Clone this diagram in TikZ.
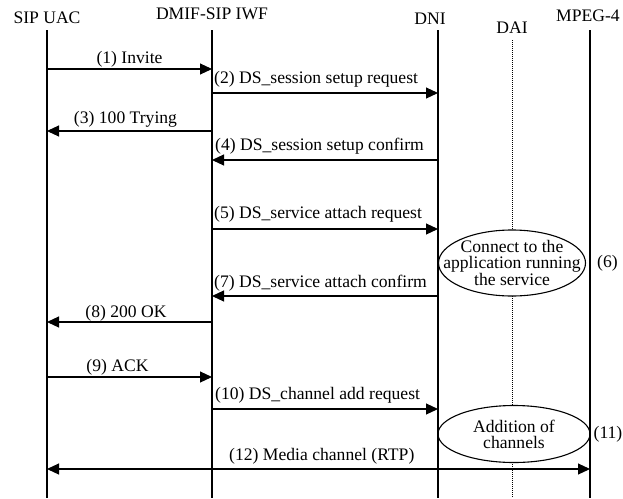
\documentclass[tikz,border=0pt]{standalone}
\usepackage{fontspec}
\setmainfont{Liberation Serif}
\usetikzlibrary{arrows.meta,shapes.geometric}
\begin{document}
\begin{tikzpicture}[x=1pt,y=-1pt,
  every node/.style={font=\fontsize{17.6}{16}\selectfont, inner sep=0pt},
  lifeline/.style={line width=1.2pt},
  dailine/.style={line width=0.8pt, dash pattern=on 1pt off 1pt},
  msg/.style={line width=1.1pt, -{Triangle[length=12pt,width=11pt]}},
  bimsg/.style={line width=1.1pt, {Triangle[length=12pt,width=11pt]}-{Triangle[length=12pt,width=11pt]}},
  action/.style={draw, ellipse, line width=1.1pt, fill=white, inner sep=0pt},
  lbl/.style={anchor=base},
  lblw/.style={anchor=base west}]
\useasboundingbox (0,0) rectangle (623,498);

% entity headings
\node[lbl] (huac) at (47,23) {SIP UAC};
\node[lbl] (hiwf) at (212,19) {DMIF-SIP IWF};
\node[lbl] (hdni) at (430,24) {DNI};
\node[lbl] (hdai) at (512,33) {DAI};
\node[lbl] (hmpg) at (588,21) {MPEG-4};

% lifeline end points
\coordinate (uac) at (47,30);   \coordinate (uacB) at (47,498);
\coordinate (iwf) at (212,30);  \coordinate (iwfB) at (212,498);
\coordinate (dni) at (438,30);  \coordinate (dniB) at (438,498);
\coordinate (dai) at (512,40);  \coordinate (daiB) at (512,498);
\coordinate (mpg) at (590,30);  \coordinate (mpgB) at (590,498);

% DAI is only a dotted interface line
\draw[dailine] (dai) -- (daiB);

% local actions at the network side
\node[action, minimum width=147pt, minimum height=66pt] (act6) at (512,263) {};
\node[align=center] (t6) at (act6.center) {Connect to the\\application running\\the service};
\node[action, minimum width=152pt, minimum height=57pt] (act11) at (514,434) {};
\node[align=center] (t11) at (act11.center) {Addition of\\channels};
\node[lbl] (n6) at (607.5,267) {(6)};
\node[lbl] (n11) at (608,438) {(11)};

% solid lifelines
\draw[lifeline] (uac) -- (uacB);
\draw[lifeline] (iwf) -- (iwfB);
\draw[lifeline] (dni) -- (dniB);
\draw[lifeline] (mpg) -- (mpgB);

% message rows
\coordinate (y1) at (0,69);
\coordinate (y2) at (0,93);
\coordinate (y3) at (0,131);
\coordinate (y4) at (0,160);
\coordinate (y5) at (0,229);
\coordinate (y7) at (0,296);
\coordinate (y8) at (0,322);
\coordinate (y9) at (0,377);
\coordinate (y10) at (0,409);
\coordinate (y12) at (0,469);

\draw[msg] (uac |- y1) -- (iwf |- y1);
\node[lbl] (l1) at (129.5,63) {(1) Invite};
\draw[msg] (iwf |- y2) -- (dni |- y2);
\node[lblw] (l2) at (214,83) {(2) DS\_session setup request};
\draw[msg] (iwf |- y3) -- (uac |- y3);
\node[lbl] (l3) at (125.5,123) {(3) 100 Trying};
\draw[msg] (dni |- y4) -- (iwf |- y4);
\node[lblw] (l4) at (215,150) {(4) DS\_session setup confirm};
\draw[msg] (iwf |- y5) -- (dni |- y5);
\node[lblw] (l5) at (214,218) {(5) DS\_service attach request};
\draw[msg] (dni |- y7) -- (iwf |- y7);
\node[lblw] (l7) at (214,287) {(7) DS\_service attach confirm};
\draw[msg] (iwf |- y8) -- (uac |- y8);
\node[lbl] (l8) at (126,317) {(8) 200 OK};
\draw[msg] (uac |- y9) -- (iwf |- y9);
\node[lbl] (l9) at (117.5,371) {(9) ACK};
\draw[msg] (iwf |- y10) -- (dni |- y10);
\node[lblw] (l10) at (215,399) {(10) DS\_channel add request};
\draw[bimsg] (uac |- y12) -- (mpg |- y12);
\node[lblw] (l12) at (229,460) {(12) Media channel (RTP)};
\end{tikzpicture}
\end{document}
